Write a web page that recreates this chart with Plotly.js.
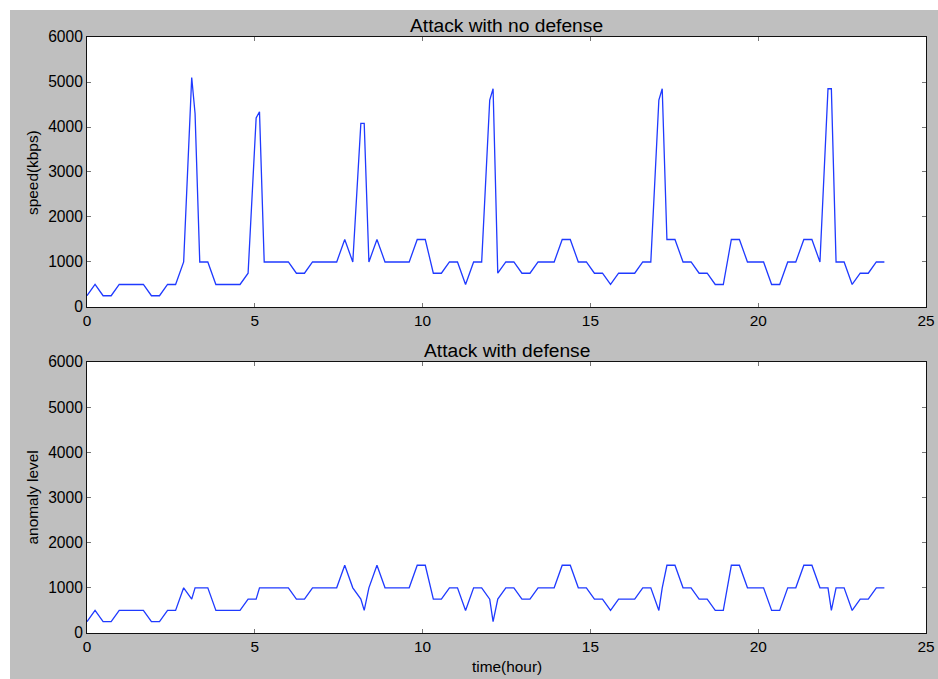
<!DOCTYPE html>
<html>
<head>
<meta charset="utf-8">
<script src="https://cdn.plot.ly/plotly-3.0.1.min.js"></script>
<style>
  html, body { margin: 0; padding: 0; background: #ffffff; }
  #chart { position: absolute; left: 10px; top: 10px; width: 928px; height: 669px; }
</style>
</head>
<body>
<div id="chart"></div>
<script>
// time in hours
const timeHours = [0,0.24,0.48,0.72,0.96,1.20,1.44,1.68,1.92,2.16,2.40,2.64,2.88,3.12,3.22,3.36,3.60,3.84,4.08,4.32,4.56,4.80,5.04,5.14,5.28,5.52,5.76,6.00,6.24,6.48,6.72,6.96,7.20,7.44,7.68,7.92,8.16,8.26,8.40,8.64,8.88,9.12,9.36,9.60,9.84,10.08,10.32,10.56,10.80,11.04,11.28,11.52,11.76,12.00,12.10,12.24,12.48,12.72,12.96,13.20,13.44,13.68,13.92,14.16,14.40,14.64,14.88,15.12,15.36,15.60,15.84,16.08,16.32,16.56,16.80,17.04,17.14,17.28,17.52,17.76,18.00,18.24,18.48,18.72,18.96,19.20,19.44,19.68,19.92,20.16,20.40,20.64,20.88,21.12,21.36,21.60,21.84,22.08,22.18,22.32,22.56,22.80,23.04,23.28,23.52,23.76];

// Attack with no defense: speed (kbps)
const speedNoDefense = [250,500,250,250,500,500,500,500,250,250,500,500,1000,5100,4300,1000,1000,500,500,500,500,750,4200,4340,1000,1000,1000,1000,750,750,1000,1000,1000,1000,1500,1000,4080,4080,1000,1500,1000,1000,1000,1000,1500,1500,750,750,1000,1000,500,1000,1000,4600,4850,750,1000,1000,750,750,1000,1000,1000,1500,1500,1000,1000,750,750,500,750,750,750,1000,1000,4600,4850,1500,1500,1000,1000,750,750,500,500,1500,1500,1000,1000,1000,500,500,1000,1000,1500,1500,1000,4850,4850,1000,1000,500,750,750,1000,1000];

// Attack with defense: anomaly level
const anomalyWithDefense = [250,500,250,250,500,500,500,500,250,250,500,500,1000,750,1000,1000,1000,500,500,500,500,750,750,1000,1000,1000,1000,1000,750,750,1000,1000,1000,1000,1500,1000,750,500,1000,1500,1000,1000,1000,1000,1500,1500,750,750,1000,1000,500,1000,1000,750,250,750,1000,1000,750,750,1000,1000,1000,1500,1500,1000,1000,750,750,500,750,750,750,1000,1000,500,1000,1500,1500,1000,1000,750,750,500,500,1500,1500,1000,1000,1000,500,500,1000,1000,1500,1500,1000,1000,500,1000,1000,500,750,750,1000,1000];

const xTickVals = [0,5,10,15,20,25];
const yTickVals = [0,1000,2000,3000,4000,5000,6000];

const FONT = 'Liberation Sans, Arial, Helvetica, sans-serif';
const lineStyle = {color: '#1f3aff', width: 1.3};

const traces = [
  {x: timeHours, y: speedNoDefense, type: 'scatter', mode: 'lines', line: lineStyle, xaxis: 'x', yaxis: 'y', hoverinfo: 'x+y'},
  {x: timeHours, y: anomalyWithDefense, type: 'scatter', mode: 'lines', line: lineStyle, xaxis: 'x2', yaxis: 'y2', hoverinfo: 'x+y'}
];

function xAx(anchor) {
  return {
    anchor: anchor, domain: [0, 1], range: [0, 25],
    tickmode: 'array', tickvals: xTickVals, ticktext: xTickVals.map(String),
    ticks: 'inside', ticklen: 4, tickcolor: '#777', tickwidth: 1,
    showline: true, linecolor: '#111', linewidth: 1, mirror: 'ticks',
    showgrid: false, zeroline: false,
    tickfont: {family: FONT, size: 15.4, color: '#000'}
  };
}
function yAx(anchor, domain) {
  return {
    anchor: anchor, domain: domain, range: [0, 6000],
    tickmode: 'array', tickvals: yTickVals, ticktext: yTickVals.map(String),
    ticks: 'inside', ticklen: 4, tickcolor: '#777', tickwidth: 1,
    showline: true, linecolor: '#111', linewidth: 1, mirror: 'ticks',
    showgrid: false, zeroline: false,
    tickfont: {family: FONT, size: 15.6, color: '#000'}
  };
}

const topDomain = [0.547, 1];
const botDomain = [0, 0.4547];

const layout = {
  width: 928, height: 669,
  paper_bgcolor: '#bfbfbf', plot_bgcolor: '#ffffff',
  margin: {l: 77, r: 12, t: 27, b: 46},
  showlegend: false,
  font: {family: FONT, color: '#000'},
  xaxis: xAx('y'),
  yaxis: yAx('x', topDomain),
  xaxis2: xAx('y2'),
  yaxis2: yAx('x2', botDomain),
  annotations: [
    {text: 'Attack with no defense', xref: 'paper', yref: 'paper', x: 0.5, y: topDomain[1], xanchor: 'center', yanchor: 'bottom', yshift: -1, showarrow: false, font: {family: FONT, size: 19.2, color: '#000'}},
    {text: 'Attack with defense', xref: 'paper', yref: 'paper', x: 0.5, y: botDomain[1], xanchor: 'center', yanchor: 'bottom', yshift: -1, showarrow: false, font: {family: FONT, size: 19.2, color: '#000'}},
    {text: 'speed(kbps)', xref: 'paper', yref: 'paper', x: -0.0644, y: (topDomain[0] + topDomain[1]) / 2, xanchor: 'center', yanchor: 'middle', textangle: -90, showarrow: false, font: {family: FONT, size: 15.4, color: '#000'}},
    {text: 'anomaly level', xref: 'paper', yref: 'paper', x: -0.0644, y: (botDomain[0] + botDomain[1]) / 2, xanchor: 'center', yanchor: 'middle', textangle: -90, showarrow: false, font: {family: FONT, size: 15.4, color: '#000'}},
    {text: 'time(hour)', xref: 'paper', yref: 'paper', x: 0.5, y: -0.0554, xanchor: 'center', yanchor: 'middle', showarrow: false, font: {family: FONT, size: 15.4, color: '#000'}}
  ]
};

Plotly.newPlot('chart', traces, layout, {staticPlot: true, displayModeBar: false});
</script>
</body>
</html>
